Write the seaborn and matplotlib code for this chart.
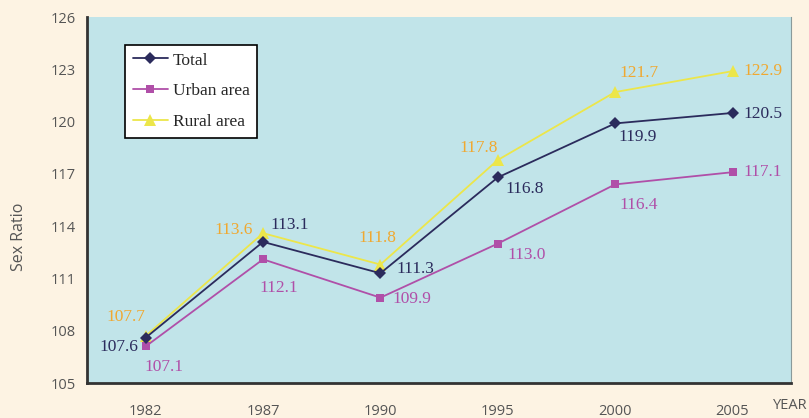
import numpy as np
import pandas as pd
import matplotlib
matplotlib.use("Agg")
import matplotlib.pyplot as plt
import seaborn as sns

years = ["1982", "1987", "1990", "1995", "2000", "2005"]
total = [107.6, 113.1, 111.3, 116.8, 119.9, 120.5]
urban = [107.1, 112.1, 109.9, 113.0, 116.4, 117.1]
rural = [107.7, 113.6, 111.8, 117.8, 121.7, 122.9]
y_ticks = [105, 108, 111, 114, 117, 120, 123, 126]

# label offsets (points) per point, tuned by eye
off_total = [(-19, -6.5), (19.5, 12), (25, 3), (19, -8), (16, -10), (22, -1)]
off_urban = [(13, -15), (11, -21), (23, -1), (21, -8), (17, -15), (22, 0)]
off_rural = [(-14, 14), (-21, 2), (-2, 19), (-14, 9), (17, 14), (22, 0)]

sns.set_theme(style="white")
plt.rcParams["font.family"] = ["Open Sans", "DejaVu Sans"]

fig = plt.figure(figsize=(8.09, 4.18), dpi=100, facecolor="#FDF3E3")
ax = fig.add_axes([0.1075, 0.0837, 0.8705, 0.8753])
ax.set_facecolor("#C1E4E9")

x = np.arange(len(years))
series = [
    ("Rural area", rural, "#ECE64A", "^", 9, "#F0A830", off_rural),
    ("Urban area", urban, "#B04FA8", "s", 6, "#B04FA8", off_urban),
    ("Total", total, "#2B2B5C", "D", 6, "#2B2B5C", off_total),
]
for name, vals, col, mk, ms, tcol, offs in series:
    df = pd.DataFrame({"x": x, "y": vals})
    sns.lineplot(data=df, x="x", y="y", ax=ax, color=col, marker=mk,
                 markersize=ms, markeredgewidth=0, linewidth=1.3, label=name)
    for xi, v, o in zip(x, vals, offs):
        ax.annotate(f"{v:.1f}", (xi, v), xytext=o, textcoords="offset points",
                    ha="center", va="center", color=tcol, fontsize=12.5,
                    family="Liberation Serif")

ax.set_xlim(-0.5, 5.5)
ax.set_ylim(105, 126)
ax.set_yticks(y_ticks)
ax.set_yticklabels([str(t) for t in y_ticks])
ax.set_xticks(np.arange(0.5, 6, 1))
ax.set_xticklabels([])
ax.set_xticks(x, minor=True)
ax.set_xticklabels(years, minor=True)
ax.tick_params(axis="x", which="minor", length=0, pad=15, labelsize=10.5, labelcolor="#555555")
ax.tick_params(axis="x", which="major", direction="in", length=5, width=1.3, color="#333333")
ax.tick_params(axis="y", direction="in", length=5, width=1.3, color="#333333",
               labelsize=10.5, labelcolor="#555555", pad=8)
ax.set_xlabel("")
ax.set_ylabel("Sex Ratio", fontsize=11.5, color="#555555")
ax.yaxis.set_label_coords(-0.085, 0.40)

for side in ["left", "bottom"]:
    ax.spines[side].set_color("#333333")
    ax.spines[side].set_linewidth(2)
ax.spines["right"].set_color("#8A9A9A")
ax.spines["right"].set_linewidth(0.8)
ax.spines["top"].set_visible(False)

fig.text(0.977, 0.012, "YEAR", fontsize=10.5, color="#555555", ha="center", va="bottom")

h, l = ax.get_legend_handles_labels()
order = [l.index("Total"), l.index("Urban area"), l.index("Rural area")]
leg = ax.legend([h[i] for i in order], [l[i] for i in order], loc="upper left",
                bbox_to_anchor=(0.054, 0.925), frameon=True, fancybox=False,
                edgecolor="black", facecolor="white", framealpha=1,
                prop={"family": "Liberation Serif", "size": 12.5},
                handlelength=2.0, handletextpad=0.3, labelspacing=0.85,
                borderpad=0.45, borderaxespad=0)
leg.get_frame().set_linewidth(1.2)

fig.savefig("out.png", dpi=100, facecolor=fig.get_facecolor())
